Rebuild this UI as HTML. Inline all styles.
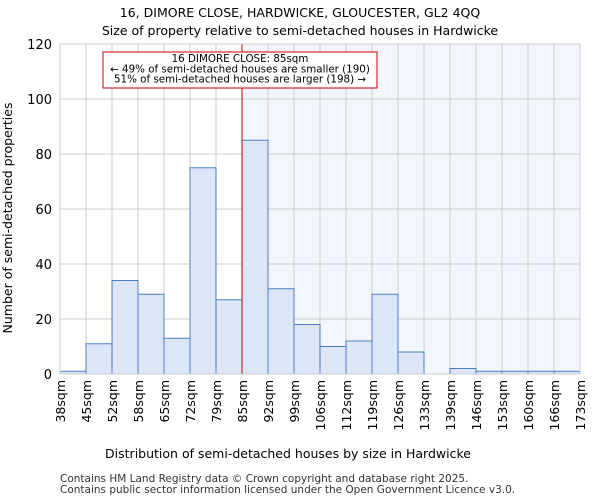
<!DOCTYPE html>
<html><head><meta charset="utf-8"><style>
body{margin:0;background:#fff;font-family:"DejaVu Sans","Liberation Sans",sans-serif;}
</style></head><body>
<svg width="600" height="500" xmlns="http://www.w3.org/2000/svg" font-family="DejaVu Sans, Liberation Sans, sans-serif">
<text x="300" y="17" text-anchor="middle" font-size="12.5">16, DIMORE CLOSE, HARDWICKE, GLOUCESTER, GL2 4QQ</text>
<text x="300" y="35" text-anchor="middle" font-size="12.5">Size of property relative to semi-detached houses in Hardwicke</text>
<g id="plot"></g>
<text x="288" y="458" text-anchor="middle" font-size="12.5">Distribution of semi-detached houses by size in Hardwicke</text>
<text transform="translate(12,218) rotate(-90)" text-anchor="middle" font-size="12.5">Number of semi-detached properties</text>
<text x="60" y="482" font-size="10.5" fill="#333">Contains HM Land Registry data © Crown copyright and database right 2025.</text>
<text x="60" y="493" font-size="10.5" fill="#333">Contains public sector information licensed under the Open Government Licence v3.0.</text>
</svg>
<script>
const categories=["38sqm","45sqm","52sqm","58sqm","65sqm","72sqm","79sqm","85sqm","92sqm","99sqm","106sqm","112sqm","119sqm","126sqm","133sqm","139sqm","146sqm","153sqm","160sqm","166sqm","173sqm"];
const counts=[1,11,34,29,13,75,27,85,31,18,10,12,29,8,0,2,1,1,1,1];
const yTicks=[0,20,40,60,80,100,120];
const markerIndex=7;
const NS="http://www.w3.org/2000/svg";
const g=document.getElementById('plot');
const L=60,R=580,T=44,B=374,yMax=120;
const bw=(R-L)/counts.length;
const xs=i=>L+i*bw;
const ys=v=>B-(v/yMax)*(B-T);
function mk(t,a){const e=document.createElementNS(NS,t);for(const k in a)e.setAttribute(k,a[k]);g.appendChild(e);return e;}
let e;
e=mk('rect',{x:xs(markerIndex),y:T,width:R-xs(markerIndex),height:B-T,fill:'#f3f6fd'});


for(let i=0;i<=counts.length;i++){e=mk('line',{x1:xs(i),x2:xs(i),y1:T,y2:B,stroke:'#cccccc','stroke-width':1});

}
yTicks.forEach(v=>{e=mk('line',{x1:L,x2:R,y1:ys(v),y2:ys(v),stroke:'#cccccc','stroke-width':1});


e=mk('text',{x:L-8,y:ys(v)+5,'text-anchor':'end','font-size':13});e.textContent=v;

});
counts.forEach((c,i)=>{if(c<=0)return;e=mk('rect',{x:xs(i),y:ys(c),width:bw,height:B-ys(c),fill:'#dce6f6',stroke:'#4a7dc9','stroke-width':1});

});
categories.forEach((c,i)=>{const x=xs(i);e=mk('text',{transform:`translate(${x+5},${B+6}) rotate(-90)`,'text-anchor':'end','font-size':12.5});e.textContent=c;

});
e=mk('line',{x1:xs(markerIndex),x2:xs(markerIndex),y1:T,y2:B,stroke:'#cc0000','stroke-width':1});


e=mk('rect',{x:103,y:52,width:274,height:36,fill:'#fff',stroke:'#cc0000','stroke-width':1});


["16 DIMORE CLOSE: 85sqm","← 49% of semi-detached houses are smaller (190)","51% of semi-detached houses are larger (198) →"].forEach((t,k)=>{e=mk('text',{x:240,y:62+k*10.3,'text-anchor':'middle','font-size':10.3});e.textContent=t;

});
e=mk('rect',{x:L,y:T,width:R-L,height:B-T,fill:'none',stroke:'#cccccc','stroke-width':1});


</script>
</body></html>
